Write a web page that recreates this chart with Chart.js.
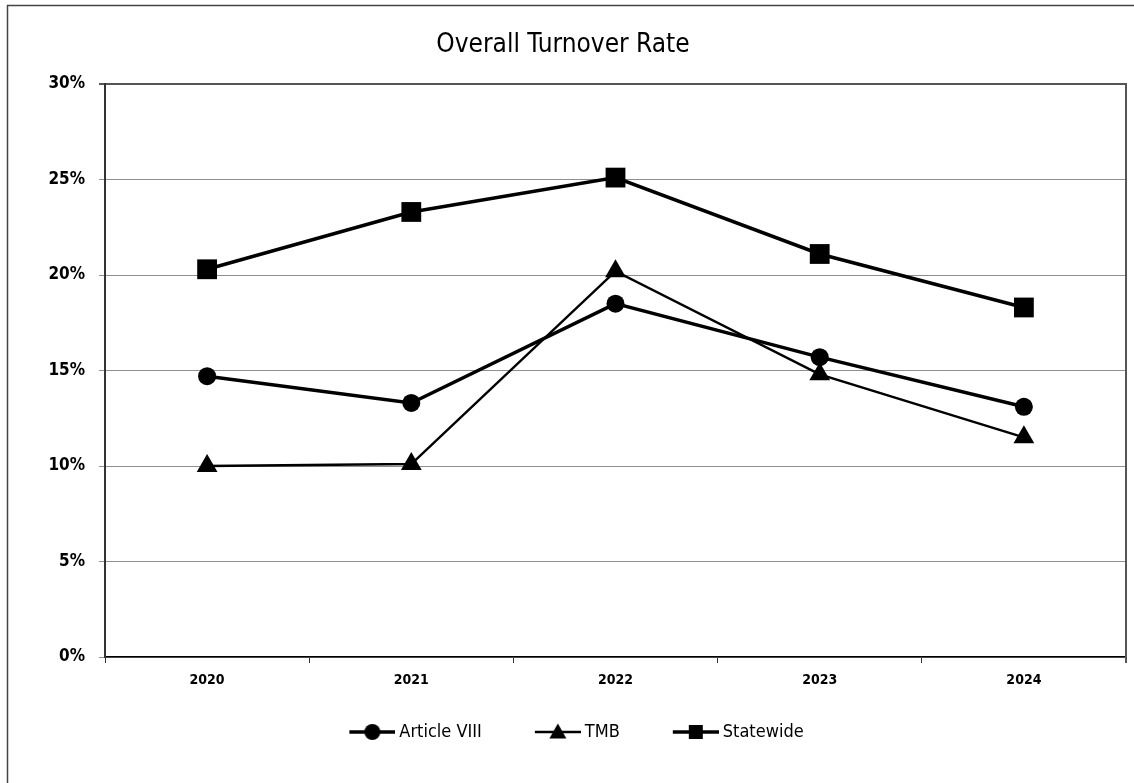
<!DOCTYPE html>
<html>
<head>
<meta charset="utf-8">
<script src="https://cdn.jsdelivr.net/npm/chart.js@4"></script>
<style>
  html, body { margin: 0; padding: 0; background: #fff; }
  #wrap { width: 1134px; height: 783px; }
</style>
</head>
<body>
<div id="wrap"><canvas id="turnoverChart"></canvas></div>
<script>
const years = ['2020', '2021', '2022', '2023', '2024'];
const articleVIII = [14.7, 13.3, 18.5, 15.7, 13.1];
const tmb = [10.0, 10.1, 20.2, 14.8, 11.5];
const statewide = [20.3, 23.3, 25.1, 21.1, 18.3];
const yTicks = [0, 5, 10, 15, 20, 25, 30];

const fam = "'DejaVu Sans Condensed', 'DejaVu Sans', sans-serif";

// big markers would otherwise push the plot in from the right edge
Chart.registry.getController('line').prototype.getMaxOverflow = function () { return 0; };

// legend icons: line with marker, drawn at the right side of a wider image
// so the gap between legend entries and the gap to the text look like the original
function makeIcon(shape, lw) {
  const c = document.createElement('canvas');
  c.width = 78; c.height = 20;
  const g = c.getContext('2d');
  const x0 = 32, cx = x0 + 23;
  g.strokeStyle = '#000';
  g.fillStyle = '#000';
  g.lineWidth = lw;
  g.beginPath();
  g.moveTo(x0, 10); g.lineTo(x0 + 46, 10);
  g.stroke();
  g.beginPath();
  if (shape === 'circle') {
    g.arc(cx, 10, 8, 0, Math.PI * 2);
  } else if (shape === 'triangle') {
    g.moveTo(cx, 1.5); g.lineTo(cx + 8.5, 16.5); g.lineTo(cx - 8.5, 16.5); g.closePath();
  } else {
    g.rect(cx - 7, 3, 14, 14);
  }
  g.fill();
  return c;
}
const icons = [makeIcon('circle', 3.5), makeIcon('triangle', 2.5), makeIcon('rect', 3.5)];

// outer frame and right edge of the plot
const framePlugin = {
  id: 'frame',
  beforeDraw(chart) {
    const ctx = chart.ctx;
    ctx.save();
    ctx.strokeStyle = '#444';
    ctx.lineWidth = 1.5;
    ctx.strokeRect(7.5, 5.5, 1300, 900);
    ctx.restore();
  },
  beforeDatasetsDraw(chart) {
    const a = chart.chartArea;
    const ctx = chart.ctx;
    ctx.save();
    ctx.strokeStyle = '#555';
    ctx.lineWidth = 2;
    ctx.beginPath();
    ctx.moveTo(a.right, a.top - 1);
    ctx.lineTo(a.right, a.bottom + 6);
    ctx.stroke();
    ctx.restore();
  }
};

const ctx = document.getElementById('turnoverChart').getContext('2d');
new Chart(ctx, {
  type: 'line',
  data: {
    labels: years,
    datasets: [{
      label: 'Article VIII',
      data: articleVIII,
      borderColor: '#000',
      backgroundColor: '#000',
      borderWidth: 3.5,
      pointStyle: 'circle',
      pointRadius: 9,
      pointBorderWidth: 0,
      tension: 0
    }, {
      label: 'TMB',
      data: tmb,
      borderColor: '#000',
      backgroundColor: '#000',
      borderWidth: 2.5,
      pointStyle: 'triangle',
      pointRadius: 12,
      pointBorderWidth: 0,
      tension: 0
    }, {
      label: 'Statewide',
      data: statewide,
      borderColor: '#000',
      backgroundColor: '#000',
      borderWidth: 3.5,
      pointStyle: 'rect',
      pointRadius: 14,
      pointBorderWidth: 0,
      tension: 0
    }]
  },
  options: {
    responsive: true,
    maintainAspectRatio: false,
    animation: false,
    layout: { padding: { left: 0, right: 8, top: 0, bottom: 32 } },
    scales: {
      x: {
        offset: true,
        grid: {
          offset: true,
          drawOnChartArea: false,
          drawTicks: true,
          tickLength: 6,
          color: '#333'
        },
        border: { color: '#000', width: 1.5 },
        ticks: {
          padding: 9,
          color: '#000',
          font: { family: fam, size: 14, weight: 'bold' }
        },
        afterFit(scale) {
          scale.height = 40;
          scale.paddingLeft = 0;
          scale.paddingRight = 0;
        }
      },
      y: {
        min: 0,
        max: 30,
        afterBuildTicks(scale) { scale.ticks = yTicks.map(v => ({ value: v })); },
        grid: {
          color: c => c.tick && c.tick.value === 30 ? '#555' : '#8f8f8f',
          lineWidth: c => c.tick && c.tick.value === 30 ? 2 : 1,
          tickLength: 6
        },
        border: { color: '#333', width: 2 },
        ticks: {
          padding: 14,
          color: '#000',
          font: { family: fam, size: 17, weight: 'bold' },
          callback: v => v + '%'
        },
        afterFit(scale) { scale.width = 105; }
      }
    },
    plugins: {
      title: {
        display: true,
        text: 'Overall Turnover Rate',
        color: '#000',
        font: { family: fam, size: 26, weight: 'normal', lineHeight: 1 },
        padding: { top: 32, bottom: 26 }
      },
      legend: {
        position: 'bottom',
        labels: {
          usePointStyle: true,
          pointStyleWidth: 68,
          padding: 26,
          color: '#000',
          font: { family: fam, size: 18 },
          generateLabels(chart) {
            const items = Chart.defaults.plugins.legend.labels.generateLabels(chart);
            items.forEach((it, i) => { it.pointStyle = icons[i]; });
            return items;
          }
        }
      },
      tooltip: { enabled: false }
    }
  },
  plugins: [framePlugin]
});
</script>
</body>
</html>
